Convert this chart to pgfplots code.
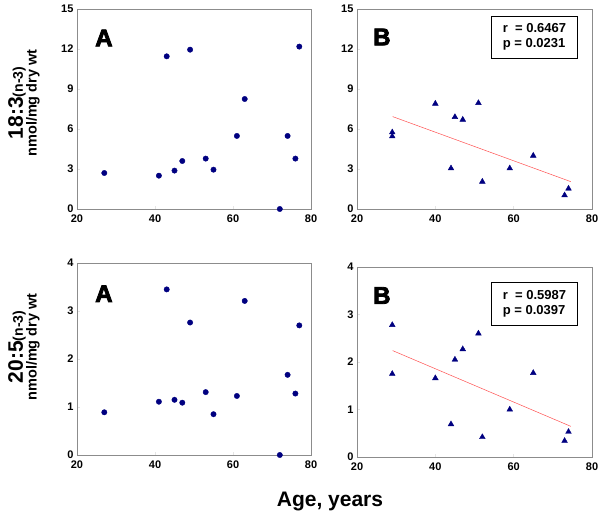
\documentclass[border=0pt]{standalone}
\usepackage{fontspec}
\setmainfont{Liberation Sans}
\usepackage{pgfplots}
\pgfplotsset{compat=1.18}
\font\heavyfont="Liberation Sans/B:embolden=3.5" at 24pt
\definecolor{navy}{HTML}{000080}
\definecolor{fitred}{HTML}{FF5050}
\pgfplotsset{
  panel/.style={
    scale only axis,
    xmin=20, xmax=80,
    xtick={20,40,60,80},
    axis line style={draw=gray!90},
    tick style={draw=gray!20, thin},
    major tick length=3pt,
    tick align=inside,
    xtick pos=bottom, ytick pos=left,
    /pgf/number format/assume math mode=true,
    tick label style={font=\bfseries\fontsize{11}{13}\selectfont},
    xticklabel style={yshift=-2pt},
    clip=false,
  },
  circ/.style={only marks, mark=*, mark size=2.7pt, color=navy},
  tri/.style={only marks, mark=triangle*, mark size=3.3pt, color=navy},
  fit/.style={no marks, color=fitred, line width=0.5pt},
}
\newcommand{\letter}[1]{{\heavyfont #1}}
\newcommand{\statbox}[2]{\fontsize{13}{15.5}\selectfont\bfseries\begin{tabular}{@{}l@{}}r\ \ = #1\\ p = #2\end{tabular}}
\begin{document}
\begin{tikzpicture}
\path[use as bounding box] (0pt,0pt) rectangle (601pt,517pt);

% ---------- top A ----------
\begin{axis}[panel, at={(77pt,308pt)}, anchor=south west, width=234pt, height=200pt,
  ymin=0, ymax=15, ytick={0,3,6,9,12,15}]
\addplot[circ] coordinates {
(27,2.7) (41,2.5) (43,11.45) (45,2.88) (47,3.6) (49,11.95) (53,3.78)
(55,2.95) (61,5.48) (63,8.25) (72,0) (74,5.48) (76,3.78) (77,12.18)};
\node at (rel axis cs:0.115,0.855) {\letter{A}};
\end{axis}

% ---------- top B ----------
\begin{axis}[panel, at={(357pt,308pt)}, anchor=south west, width=235pt, height=200pt,
  ymin=0, ymax=15, ytick={0,3,6,9,12,15}]
\addplot[fit] coordinates {(29.1,6.93) (74.6,2.05)};
\addplot[tri] coordinates {
(29,5.75) (29,5.45) (40,7.9) (44,3.05) (45,6.9) (47,6.7) (51,7.95)
(52,2.05) (59,3.05) (65,4.0) (73,1.03) (74,1.53)};
\node at (rel axis cs:0.106,0.86) {\letter{B}};
\node[draw=black, line width=0.8pt, fill=white, inner sep=3pt, minimum width=86pt, minimum height=42pt]
  at (rel axis cs:0.755,0.86) {\statbox{0.6467}{0.0231}};
\end{axis}

% ---------- bottom A ----------
\begin{axis}[panel, at={(77pt,62pt)}, anchor=south west, width=234pt, height=192pt,
  ymin=0, ymax=4, ytick={0,1,2,3,4}]
\addplot[circ] coordinates {
(27,0.89) (41,1.11) (43,3.45) (45,1.15) (47,1.09) (49,2.76) (53,1.31)
(55,0.85) (61,1.23) (63,3.21) (72,0) (74,1.67) (76,1.28) (77,2.7)};
\node at (rel axis cs:0.115,0.84) {\letter{A}};
\end{axis}

% ---------- bottom B ----------
\begin{axis}[panel, at={(357pt,60pt)}, anchor=south west, width=235pt, height=190pt,
  ymin=0, ymax=4, ytick={0,1,2,3,4}]
\addplot[fit] coordinates {(29.1,2.24) (74.6,0.645)};
\addplot[tri] coordinates {
(29,2.78) (29,1.75) (40,1.66) (44,0.69) (45,2.05) (47,2.27) (51,2.6)
(52,0.42) (59,1.0) (65,1.77) (73,0.34) (74,0.53)};
\node at (rel axis cs:0.106,0.85) {\letter{B}};
\node[draw=black, line width=0.8pt, fill=white, inner sep=3pt, minimum width=86pt, minimum height=43pt]
  at (rel axis cs:0.755,0.805) {\statbox{0.5987}{0.0397}};
\end{axis}

% ---------- y labels ----------
\node[rotate=90, font=\bfseries\fontsize{21}{24}\selectfont] at (17pt,414pt)
  {18:3{\fontsize{14}{16}\selectfont(n-3)}};
\node[rotate=90, font=\bfseries\fontsize{14.5}{16}\selectfont] at (33pt,414pt) {nmol/mg dry wt};
\node[rotate=90, font=\bfseries\fontsize{21}{24}\selectfont] at (17pt,170pt)
  {20:5{\fontsize{14}{16}\selectfont(n-3)}};
\node[rotate=90, font=\bfseries\fontsize{14.5}{16}\selectfont] at (33pt,170pt) {nmol/mg dry wt};

% ---------- x label ----------
\node[font=\bfseries\fontsize{21}{24}\selectfont] at (330pt,16pt) {Age, years};
\end{tikzpicture}
\end{document}
